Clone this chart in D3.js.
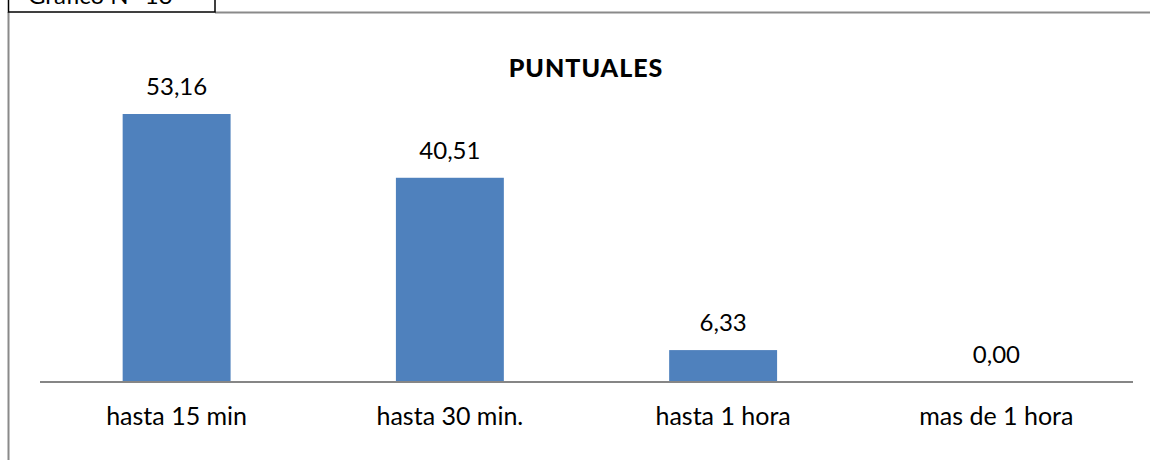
<!DOCTYPE html>
<html>
<head>
<meta charset="utf-8">
<title>PUNTUALES</title>
<script src="https://cdn.jsdelivr.net/npm/d3@7"></script>
<style>
    body { margin: 0; background: #fff; }
    svg { display: block; }
    .label { font-family: Lato, "Liberation Sans", sans-serif; fill: #000; }
</style>
</head>
<body>
<script>
    var categories = ["hasta 15 min", "hasta 30 min.", "hasta 1 hora", "mas de 1 hora"];
    var values = [53.16, 40.51, 6.33, 0.00];
    var chartTitle = "PUNTUALES";
    var boxTitle = "Gráfico N° 13";

    var width = 1151, height = 460;
    var left = 40, right = 1133, axisY = 382;

    var svg = d3.select("body").append("svg")
        .attr("width", width)
        .attr("height", height);

    // outer frame (grey), top-left caption box
    svg.append("line")
        .attr("x1", 8.5).attr("y1", 12).attr("x2", 8.5).attr("y2", height)
        .attr("stroke", "#8a8a8a").attr("stroke-width", 2);
    svg.append("line")
        .attr("x1", 215).attr("y1", 12.5).attr("x2", 1150).attr("y2", 12.5)
        .attr("stroke", "#8a8a8a").attr("stroke-width", 2);
    svg.append("rect")
        .attr("x", 8.5).attr("y", -10).attr("width", 206.5).attr("height", 22)
        .attr("fill", "#fff").attr("stroke", "#000").attr("stroke-width", 1.5);
    svg.append("text")
        .attr("class", "label")
        .attr("x", 28).attr("y", 4)
        .style("font-size", "24px")
        .text(boxTitle);

    var x = d3.scaleBand()
        .domain(categories)
        .range([left, right])
        .paddingInner(0.605)
        .paddingOuter(0.3025);

    var y = d3.scaleLinear()
        .domain([0, 53.16])
        .range([axisY, 114]);

    svg.selectAll(".bar")
        .data(values)
        .enter().append("rect")
        .attr("class", "bar")
        .attr("x", function (d, i) { return x(categories[i]); })
        .attr("width", x.bandwidth())
        .attr("y", function (d) { return y(d); })
        .attr("height", function (d) { return axisY - y(d); })
        .attr("fill", "#4f81bd");

    svg.append("line")
        .attr("x1", left).attr("x2", right)
        .attr("y1", axisY).attr("y2", axisY)
        .attr("stroke", "#868686").attr("stroke-width", 2);

    svg.selectAll(".value")
        .data(values)
        .enter().append("text")
        .attr("class", "label")
        .attr("text-anchor", "middle")
        .attr("x", function (d, i) { return x(categories[i]) + x.bandwidth() / 2; })
        .attr("y", function (d) { return y(d) - 19; })
        .style("font-size", "24px")
        .text(function (d) { return d.toFixed(2).replace(".", ","); });

    svg.selectAll(".cat")
        .data(categories)
        .enter().append("text")
        .attr("class", "label")
        .attr("text-anchor", "middle")
        .attr("x", function (d) { return x(d) + x.bandwidth() / 2; })
        .attr("y", 425)
        .style("font-size", "25px")
        .text(function (d) { return d; });

    svg.append("text")
        .attr("class", "label")
        .attr("text-anchor", "middle")
        .attr("x", 586).attr("y", 77)
        .style("font-size", "25px")
        .style("font-weight", "900")
        .style("letter-spacing", "1px")
        .text(chartTitle);
</script>
</body>
</html>
